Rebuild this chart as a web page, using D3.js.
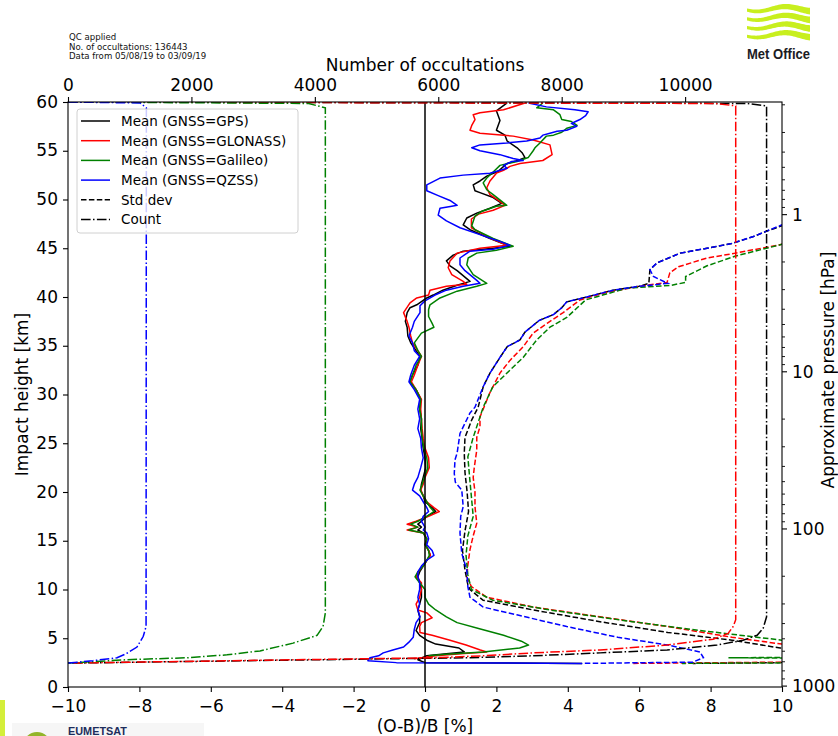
<!DOCTYPE html>
<html>
<head>
<meta charset="utf-8">
<script src="https://cdn.jsdelivr.net/npm/d3@7"></script>
<style>
  body { margin: 0; background: #fff; }
  svg { display: block; font-family: "DejaVu Sans", sans-serif; }
</style>
</head>
<body>
<svg id="chart" width="838" height="736"></svg>
<script>
// ---- Data: [impact height km, value] ----
const meanGPS = [[59.9,2.3],[59.1,2.0],[58.1,2.1],[57.1,2.0],[56.6,2.24],[56.0,2.3],[55.3,2.58],[54.8,2.72],[54.3,2.8],[54.0,2.6],[53.7,2.3],[52.9,2.05],[52.4,1.73],[51.9,1.54],[51.5,1.35],[50.9,1.4],[50.7,1.54],[50.2,1.91],[49.6,2.15],[49.1,1.82],[48.6,1.45],[48.1,1.17],[47.4,1.07],[46.9,1.26],[46.0,1.82],[45.2,2.38],[45.0,1.91],[44.7,1.07],[44.3,0.79],[43.7,0.6],[43.2,0.7],[42.7,0.9],[41.6,1.26],[41.2,0.9],[40.7,0.5],[40.2,0.23],[39.9,0.05],[39.2,-0.23],[38.9,-0.42],[38.4,-0.5],[37.5,-0.55],[36.9,-0.5],[36.0,-0.48],[35.3,-0.4],[34.5,-0.25],[33.9,-0.14],[33.0,-0.2],[32.0,-0.35],[31.3,-0.42],[30.5,-0.25],[29.5,-0.12],[28.5,-0.15],[27.5,-0.1],[26.5,-0.12],[25.5,-0.08],[24.5,-0.05],[23.5,0.0],[22.5,0.02],[21.5,-0.05],[20.8,-0.1],[20.2,-0.12],[19.6,-0.05],[19.0,0.0],[18.4,0.2],[18.0,0.3],[17.5,0.05],[17.0,-0.1],[16.7,-0.2],[16.4,-0.1],[16.1,-0.2],[15.8,-0.05],[15.2,0.05],[14.6,0.02],[14.0,0.1],[13.5,0.15],[13.0,0.05],[12.4,-0.05],[11.8,-0.15],[11.3,-0.2],[10.7,-0.15],[10.0,-0.1],[9.2,-0.1],[8.5,-0.15],[7.9,-0.2],[7.2,-0.15],[6.6,-0.15],[6.2,-0.2],[5.8,-0.25],[5.3,-0.15],[4.8,0.05],[4.4,0.3],[4.0,0.95],[3.6,1.1],[3.4,0.6],[3.2,0.05],[2.8,-0.2],[2.5,0.0],[2.42,4.4]];
const meanGLONASS = [[59.9,2.8],[59.2,2.2],[58.9,1.54],[58.7,1.35],[58.2,1.4],[57.6,1.31],[57.1,1.26],[56.8,1.54],[56.5,2.47],[56.1,3.03],[55.6,3.5],[54.6,3.56],[54.0,3.3],[53.7,2.66],[53.4,2.38],[53.0,2.2],[52.7,2.0],[51.9,1.82],[51.2,1.73],[50.5,1.82],[49.8,2.1],[49.4,2.24],[48.9,1.91],[48.5,1.5],[48.0,1.3],[47.1,1.3],[46.0,1.85],[45.3,2.3],[45.0,1.54],[44.5,0.9],[43.7,0.7],[43.0,0.65],[42.3,0.75],[41.6,1.07],[41.3,1.17],[41.1,0.6],[40.7,0.14],[40.2,0.1],[39.9,-0.23],[39.4,-0.42],[38.4,-0.6],[37.5,-0.5],[36.9,-0.45],[36.0,-0.4],[35.3,-0.35],[34.5,-0.2],[33.9,-0.1],[33.0,-0.2],[32.0,-0.3],[31.3,-0.38],[30.5,-0.25],[29.5,-0.1],[28.5,-0.12],[27.5,-0.1],[26.5,-0.08],[25.5,-0.05],[24.5,0.0],[23.5,0.1],[22.5,0.12],[21.5,0.0],[20.8,-0.05],[20.2,-0.12],[19.6,-0.05],[19.0,0.05],[18.4,0.25],[18.0,0.4],[17.5,0.1],[17.0,-0.25],[16.7,-0.5],[16.4,-0.2],[16.1,-0.5],[15.8,-0.05],[15.2,0.05],[14.6,0.0],[14.0,0.1],[13.5,0.15],[13.0,0.05],[12.4,-0.05],[11.8,-0.2],[11.3,-0.25],[10.7,-0.1],[10.0,-0.1],[9.2,-0.15],[8.5,-0.25],[7.9,-0.2],[7.6,0.05],[7.1,0.2],[6.6,-0.1],[6.2,-0.15],[5.6,-0.14],[5.3,0.2],[4.8,0.7],[4.3,1.15],[3.8,1.55],[3.6,1.73],[3.4,1.0],[3.2,0.3],[2.9,-0.3]];
const meanGalileo = [[59.9,3.3],[59.4,3.13],[59.2,3.6],[58.7,3.78],[58.2,3.83],[58.0,4.1],[57.6,4.26],[57.3,3.97],[56.9,3.83],[56.6,3.6],[56.5,3.4],[55.8,3.22],[55.3,3.08],[55.0,3.03],[54.3,2.89],[53.9,2.58],[53.5,2.1],[53.0,1.96],[52.2,1.73],[51.7,1.63],[51.0,1.73],[50.5,1.91],[49.8,2.15],[49.4,2.29],[49.3,2.0],[48.8,1.6],[48.3,1.4],[47.3,1.31],[46.9,1.4],[46.0,1.91],[45.2,2.47],[44.8,2.0],[44.5,1.45],[44.0,1.21],[43.3,1.17],[42.3,1.35],[41.4,1.73],[41.1,1.45],[40.6,0.9],[39.9,0.42],[39.2,0.14],[38.7,0.1],[38.0,0.1],[37.3,0.2],[36.9,0.25],[36.3,-0.1],[35.3,-0.3],[34.5,-0.2],[33.9,-0.1],[33.0,-0.25],[32.0,-0.35],[31.3,-0.42],[30.5,-0.25],[29.5,-0.12],[28.5,-0.15],[27.5,-0.1],[26.5,-0.1],[25.5,-0.08],[24.5,-0.03],[23.5,0.05],[22.5,0.08],[21.5,-0.02],[20.8,-0.08],[20.2,-0.14],[19.6,-0.05],[19.0,0.05],[18.4,0.15],[18.0,0.25],[17.5,0.05],[17.0,-0.2],[16.7,-0.4],[16.4,-0.2],[16.1,-0.45],[15.8,-0.05],[15.2,0.05],[14.6,0.0],[14.0,0.1],[13.5,0.12],[13.0,0.05],[12.4,-0.05],[11.8,-0.2],[11.3,-0.28],[10.7,-0.15],[10.0,0.0],[9.2,0.0],[8.5,0.1],[7.9,0.3],[7.2,0.6],[6.6,0.9],[6.0,1.5],[5.3,2.2],[4.7,2.7],[4.3,2.9],[4.0,2.65],[3.6,1.63],[3.35,0.6],[3.2,0.1]];
const meanQZSS = [[59.9,2.9],[59.5,3.4],[59.2,4.2],[59.0,4.57],[58.6,4.5],[58.2,4.34],[57.8,4.1],[57.5,4.25],[57.1,3.97],[57.0,3.7],[56.8,3.5],[56.6,3.3],[56.3,3.22],[56.0,2.85],[55.8,2.29],[55.6,1.54],[55.3,1.31],[55.0,1.54],[54.6,2.1],[54.2,2.47],[54.0,2.75],[53.9,2.43],[53.5,2.2],[53.2,2.3],[52.7,1.82],[52.5,1.07],[52.2,0.42],[51.5,0.05],[50.9,0.05],[50.4,0.37],[49.9,0.7],[49.4,0.9],[49.3,0.75],[49.1,0.42],[48.4,0.37],[47.8,0.6],[47.1,0.98],[46.4,1.54],[45.7,2.1],[45.3,2.38],[44.9,1.91],[44.7,1.26],[44.0,0.98],[43.3,0.98],[42.7,1.12],[41.7,1.45],[41.4,1.54],[41.1,1.07],[40.7,0.6],[40.2,0.28],[39.6,0.0],[39.1,-0.14],[38.4,-0.14],[37.5,-0.3],[36.9,-0.35],[36.0,-0.45],[35.3,-0.35],[34.5,-0.3],[33.9,-0.15],[33.0,-0.3],[32.0,-0.4],[31.3,-0.45],[30.5,-0.3],[29.5,-0.15],[28.5,-0.2],[27.5,-0.15],[26.5,-0.2],[25.5,-0.12],[24.5,-0.1],[23.5,-0.05],[22.5,-0.12],[21.5,-0.2],[20.8,-0.3],[20.2,-0.35],[19.6,-0.15],[19.0,-0.05],[18.4,0.05],[18.0,0.1],[17.5,-0.05],[17.0,-0.1],[16.7,-0.05],[16.4,0.0],[16.1,-0.05],[15.8,0.05],[15.2,0.1],[14.6,0.05],[14.0,0.2],[13.5,0.25],[13.0,0.05],[12.4,-0.1],[11.8,-0.2],[11.3,-0.2],[10.7,-0.15],[10.0,-0.15],[9.2,-0.2],[8.5,-0.15],[7.9,-0.2],[7.2,-0.14],[6.6,-0.25],[5.9,-0.3],[5.1,-0.33],[4.6,-0.45],[4.1,-0.6],[3.8,-0.9],[3.5,-1.17],[3.2,-1.3],[3.0,-1.54],[2.7,-1.6],[2.5,-0.8],[2.42,4.4]];

const stdGPS = [[49.5,14],[47.3,10.0],[46.8,9.6],[46.2,9.2],[45.5,8.6],[45.0,7.9],[44.5,7.15],[43.5,6.5],[42.8,6.3],[41.4,6.27],[41.1,6.0],[40.7,5.27],[40.0,4.53],[39.5,3.97],[38.9,3.83],[38.2,3.6],[37.6,3.2],[36.4,2.8],[35.6,2.66],[34.9,2.3],[33.8,2.1],[32.2,1.82],[30.8,1.63],[28.7,1.49],[27.4,1.31],[25.6,1.12],[24.0,1.1],[22.0,1.12],[20.0,1.18],[18.0,1.22],[16.0,1.12],[14.0,1.05],[12.0,1.12],[10.5,1.2],[10.0,1.26],[8.9,1.63],[7.9,3.03],[6.7,4.9],[5.6,6.8],[4.8,8.6],[4.0,9.95],[3.4,13],[2.7,16],[2.42,7.5]];
const stdGLONASS = [[47.5,14],[45.4,10.0],[44.5,8.7],[44.0,7.9],[43.1,7.1],[42.5,6.86],[41.5,6.78],[41.2,6.2],[40.5,5.1],[39.7,4.34],[38.4,3.87],[37.3,3.42],[36.3,3.03],[34.9,2.75],[33.5,2.38],[32.2,2.1],[30.2,1.82],[27.7,1.54],[26.7,1.54],[25.6,1.45],[24.3,1.45],[22.5,1.38],[21.5,1.35],[20.0,1.4],[18.5,1.4],[16.8,1.45],[15.5,1.35],[14.1,1.26],[12.5,1.2],[11.3,1.17],[10.3,1.3],[9.2,1.73],[8.2,3.03],[7.2,4.9],[6.2,6.8],[5.1,8.6],[4.4,10.0],[3.5,13],[2.7,15],[2.42,5.8]];
const stdGalileo = [[47.5,14],[45.4,10.0],[44.2,8.7],[43.2,7.9],[42.1,7.3],[41.5,7.3],[41.2,6.9],[40.9,5.65],[39.7,4.5],[37.9,3.97],[36.9,3.5],[35.6,3.13],[33.8,2.75],[32.5,2.38],[30.8,1.9],[28.7,1.63],[25.6,1.35],[23.6,1.2],[21.5,1.25],[19.5,1.3],[17.5,1.35],[15.5,1.2],[13.5,1.15],[11.5,1.2],[10.0,1.3],[8.9,1.9],[7.9,3.5],[6.7,5.8],[5.8,7.7],[4.8,10.0],[4.0,13],[3.15,16],[3.0,8.5],[2.85,16],[2.6,16],[2.42,7.2]];
const stdQZSS = [[49.5,14],[47.4,10.0],[46.2,9.2],[45.5,8.6],[45.0,7.9],[44.5,7.15],[43.5,6.5],[42.8,6.3],[42.1,6.4],[41.4,6.8],[41.1,6.0],[40.7,5.27],[40.0,4.53],[39.5,3.97],[38.9,3.83],[38.2,3.6],[37.6,3.2],[36.4,2.8],[35.6,2.66],[34.9,2.3],[33.8,2.1],[32.2,1.82],[30.8,1.63],[28.7,1.4],[28.1,1.26],[26.0,0.98],[24.0,0.9],[23.3,0.84],[21.9,0.82],[21.0,0.85],[20.2,1.03],[18.5,1.07],[17.5,1.0],[15.8,0.98],[13.7,1.03],[12.0,1.17],[10.3,1.2],[9.2,1.26],[8.2,1.63],[7.4,2.57],[6.2,3.97],[5.1,5.4],[4.3,6.8],[3.6,7.7],[3.0,7.8],[2.55,7.5],[2.42,4.4]];

// number of occultations per level: [impact height km, count]
const countGPS = [[60.0,0],[59.85,11000],[59.6,11320],[7.2,11320],[6.0,11264],[5.3,11167],[4.8,10940],[4.3,10518],[3.8,9708],[3.5,8622],[3.2,7536],[3.0,6467],[2.45,0]];
const countGLONASS = [[60.0,0],[59.85,10500],[59.6,10820],[6.9,10820],[6.2,10778],[5.5,10697],[4.9,10454],[4.3,9708],[3.8,8622],[3.5,7536],[3.2,6726],[3.0,5916],[2.45,0]];
const countGalileo = [[60.0,0],[59.85,3900],[59.4,4170],[7.6,4170],[6.2,4133],[5.3,4036],[4.5,3647],[3.7,3112],[3.3,2577],[3.0,1929],[2.8,956],[2.45,0]];
const countQZSS = [[60.0,0],[59.9,1170],[59.4,1270],[6.2,1265],[5.2,1220],[4.1,1118],[3.4,940],[3.0,794],[2.7,405],[2.45,0]];

const gnssNames = ["GPS", "GLONASS", "Galileo", "QZSS"];
const gnssColors = ["#000000", "#ff0000", "#008000", "#0000ff"];
const xTicks = [-10, -8, -6, -4, -2, 0, 2, 4, 6, 8, 10];
const yTicks = [0, 5, 10, 15, 20, 25, 30, 35, 40, 45, 50, 55, 60];
const countTicks = [0, 2000, 4000, 6000, 8000, 10000];
const pressureMajor = [1, 10, 100, 1000];
const headerLines = ["QC applied", "No. of occultations: 136443", "Data from 05/08/19 to 03/09/19"];

// ---- Layout ----
const L = 68, R = 782, T = 102, B = 687;
const svg = d3.select("#chart");
const x = d3.scaleLinear().domain([-10, 10]).range([L, R]);
const y = d3.scaleLinear().domain([0, 60]).range([B, T]);
const xc = d3.scaleLinear().domain([0, 11570]).range([L, R]);
// approximate pressure (hPa) to impact height (km)
const pToH = p => 7 * Math.log(1013.25 / p);

svg.append("rect").attr("width", 838).attr("height", 736).attr("fill", "#fff");

svg.append("defs").append("clipPath").attr("id", "plotclip")
  .append("rect").attr("x", L).attr("y", T).attr("width", R - L).attr("height", B - T);

const plot = svg.append("g").attr("clip-path", "url(#plotclip)");

const lineVal = d3.line().x(d => x(d[1])).y(d => y(d[0]));
const lineCount = d3.line().x(d => xc(d[1])).y(d => y(d[0]));

const means = [meanGPS, meanGLONASS, meanGalileo, meanQZSS];
const stds = [stdGPS, stdGLONASS, stdGalileo, stdQZSS];
const counts = [countGPS, countGLONASS, countGalileo, countQZSS];

const DASH = "5.5,2.4";
const DASHDOT = "9.6,2.4,1.5,2.4";

// std dev profiles
stds.forEach((s, i) => {
  plot.append("path").attr("d", lineVal(s)).attr("fill", "none")
    .attr("stroke", gnssColors[i]).attr("stroke-width", 1.5)
    .attr("stroke-dasharray", DASH);
});
// mean profiles
means.forEach((s, i) => {
  plot.append("path").attr("d", lineVal(s)).attr("fill", "none")
    .attr("stroke", gnssColors[i]).attr("stroke-width", 1.5)
    .attr("stroke-linejoin", "round");
});
// zero reference line
plot.append("line").attr("x1", x(0)).attr("x2", x(0)).attr("y1", T).attr("y2", B)
  .attr("stroke", "#000").attr("stroke-width", 1.5);
// counts on the top axis
counts.forEach((s, i) => {
  plot.append("path").attr("d", lineCount(s)).attr("fill", "none")
    .attr("stroke", gnssColors[i]).attr("stroke-width", 1.5)
    .attr("stroke-dasharray", DASHDOT);
});

// ---- Axes ----
const tickFont = 17;
function styleAxis(g) {
  g.selectAll("text").attr("font-size", tickFont).attr("fill", "#000")
    .attr("font-family", "DejaVu Sans, sans-serif");
  g.selectAll("line").attr("stroke", "#000").attr("stroke-width", 1.1);
  g.select(".domain").remove();
}
svg.append("g").attr("transform", `translate(0,${B})`)
  .call(d3.axisBottom(x).tickValues(xTicks).tickSize(5).tickPadding(8))
  .call(styleAxis);
svg.append("g").attr("transform", `translate(${L},0)`)
  .call(d3.axisLeft(y).tickValues(yTicks).tickSize(5).tickPadding(5))
  .call(styleAxis)
  .call(g => g.selectAll("text").attr("dy", "0.3em"));
svg.append("g").attr("transform", `translate(0,${T})`)
  .call(d3.axisTop(xc).tickValues(countTicks).tickSize(5).tickPadding(6).tickFormat(d3.format("d")))
  .call(styleAxis);

// right pressure axis (log)
const minorP = [];
[0.1, 1, 10, 100].forEach(dec => { for (let k = 2; k <= 9; k++) minorP.push(dec * k); });
const rightAx = svg.append("g").attr("transform", `translate(${R},0)`);
rightAx.selectAll("line.minor").data(minorP.filter(p => pToH(p) <= 60 && pToH(p) >= 0))
  .join("line").attr("class", "minor")
  .attr("x1", 0).attr("x2", 3).attr("y1", p => y(pToH(p))).attr("y2", p => y(pToH(p)))
  .attr("stroke", "#000").attr("stroke-width", 0.9);
rightAx.selectAll("line.major").data(pressureMajor)
  .join("line").attr("class", "major")
  .attr("x1", 0).attr("x2", 5).attr("y1", p => y(pToH(p))).attr("y2", p => y(pToH(p)))
  .attr("stroke", "#000").attr("stroke-width", 1.1);
rightAx.selectAll("text").data(pressureMajor).join("text")
  .attr("x", 10).attr("y", p => y(pToH(p))).attr("dy", "0.36em")
  .attr("font-size", tickFont).text(d => d);

// spines
svg.append("rect").attr("x", L).attr("y", T).attr("width", R - L).attr("height", B - T)
  .attr("fill", "none").attr("stroke", "#000").attr("stroke-width", 1.1);

// axis titles
svg.append("text").attr("x", (L + R) / 2).attr("y", 732).attr("text-anchor", "middle")
  .attr("font-size", 17).text("(O-B)/B [%]");
svg.append("text").attr("x", (L + R) / 2).attr("y", 71).attr("text-anchor", "middle")
  .attr("font-size", 17).text("Number of occultations");
svg.append("text").attr("transform", `translate(28,${(T + B) / 2}) rotate(-90)`)
  .attr("text-anchor", "middle").attr("font-size", 17).text("Impact height [km]");
svg.append("text").attr("transform", `translate(834,370) rotate(-90)`)
  .attr("text-anchor", "middle").attr("font-size", 17).text("Approximate pressure [hPa]");

// header text
svg.append("g").selectAll("text").data(headerLines).join("text")
  .attr("x", 69).attr("y", (d, i) => 40 + i * 9.6)
  .attr("font-size", 8.6).attr("fill", "#111").text(d => d);

// ---- Legend ----
const legendItems = gnssNames.map((n, i) => ({ label: `Mean (GNSS=${n})`, color: gnssColors[i], dash: null }))
  .concat([{ label: "Std dev", color: "#000", dash: DASH }, { label: "Count", color: "#000", dash: DASHDOT }]);
const lg = svg.append("g");
lg.append("rect").attr("x", 77).attr("y", 109).attr("width", 221).attr("height", 124)
  .attr("rx", 3).attr("fill", "#fff").attr("fill-opacity", 0.8)
  .attr("stroke", "#d0d0d0").attr("stroke-width", 1);
legendItems.forEach((it, i) => {
  const yy = 121 + i * 19.7;
  lg.append("line").attr("x1", 81).attr("x2", 110).attr("y1", yy).attr("y2", yy)
    .attr("stroke", it.color).attr("stroke-width", 1.5)
    .attr("stroke-dasharray", it.dash);
  lg.append("text").attr("x", 121).attr("y", yy).attr("dy", "0.36em")
    .attr("font-size", 13.5).text(it.label);
});

// ---- Met Office mark: four wavy bands widening to the right ----
const mo = svg.append("g");
[0, 1, 2, 3].forEach(k => {
  const xs = d3.range(0, 64, 1.5);
  const mid = t => 9 + k * 8.7 + 2.4 * Math.sin(t / 63 * 2 * Math.PI * 1.1 + 0.5);
  const half = t => 1.6 + 1.7 * t / 63;
  const top = xs.map(t => [747 + t, mid(t) - half(t)]);
  const bot = xs.slice().reverse().map(t => [747 + t, mid(t) + half(t)]);
  mo.append("path").attr("d", d3.line().curve(d3.curveLinearClosed)(top.concat(bot)))
    .attr("fill", "#c8ef1e");
});
mo.append("text").attr("x", 747).attr("y", 59).attr("font-family", "Liberation Sans, sans-serif")
  .attr("font-weight", "bold").attr("font-size", 15).attr("fill", "#1b1b24")
  .attr("textLength", 63).attr("lengthAdjust", "spacingAndGlyphs").text("Met Office");

// ---- EUMETSAT mark ----
const eu = svg.append("g");
eu.append("rect").attr("x", 12).attr("y", 723).attr("width", 192).attr("height", 13).attr("fill", "#f6f6f6");
eu.append("rect").attr("x", 0).attr("y", 700).attr("width", 5).attr("height", 36).attr("fill", "#d4ee3a");
eu.append("circle").attr("cx", 37).attr("cy", 746).attr("r", 14).attr("fill", "#93b52a");
eu.append("text").attr("x", 68).attr("y", 735).attr("font-family", "Liberation Sans, sans-serif")
  .attr("font-weight", "bold").attr("font-size", 10).attr("fill", "#1d2d5c")
  .attr("textLength", 59).attr("lengthAdjust", "spacingAndGlyphs").text("EUMETSAT");
</script>
</body>
</html>
